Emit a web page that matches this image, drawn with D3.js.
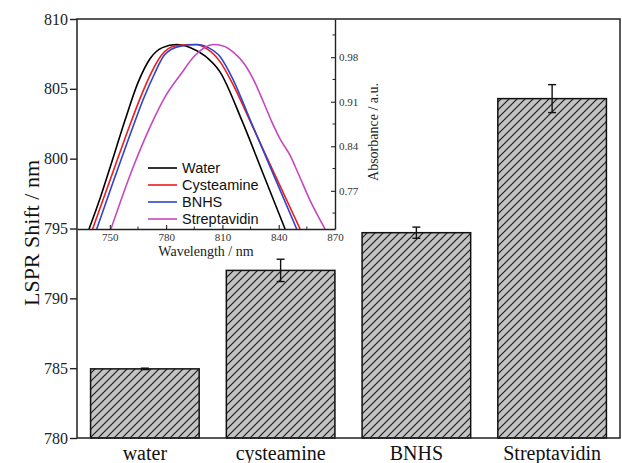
<!DOCTYPE html>
<html>
<head>
<meta charset="utf-8">
<script src="https://cdn.jsdelivr.net/npm/d3@7"></script>
<style>
  html, body { margin: 0; padding: 0; background: #fff; }
  svg { display: block; }
</style>
</head>
<body>
<svg id="chart" width="622" height="463"></svg>
<script>
// ---------- data ----------
const categories = ["water", "cysteamine", "BNHS", "Streptavidin"];
const shiftValues = [784.95, 792.0, 794.7, 804.3];
const shiftErrors = [0.05, 0.8, 0.4, 1.0];
const shiftTicks = [780, 785, 790, 795, 800, 805, 810];

const insetWlTicks = [750, 780, 810, 840, 870];
const insetWlMinor = [765, 795, 825, 855];
const insetAbsTicks = [0.77, 0.84, 0.91, 0.98];
const insetAbsMinor = [0.735, 0.805, 0.875, 0.945, 1.015];

const seriesNames = ["Water", "Cysteamine", "BNHS", "Streptavidin"];
const seriesColors = ["#000000", "#ee1c1c", "#2f45c8", "#c648c0"];

const waterSpec = [[738.9,0.710],[745,0.760],[751,0.815],[758,0.880],[765,0.940],[771.5,0.978],[778,0.995],[785.6,1.000],[793,0.995],[800.7,0.982],[808.7,0.957],[820.3,0.881],[831.8,0.796],[843.4,0.710]];
const cysteamineSpec = [[740.8,0.710],[750.5,0.790],[760,0.868],[766.5,0.918],[772,0.955],[777.5,0.983],[785,0.998],[795.4,1.000],[801.8,0.993],[808.7,0.973],[815.8,0.936],[825,0.878],[838,0.795],[851.4,0.710]];
const bnhsSpec = [[743.0,0.710],[752.5,0.790],[762,0.868],[768,0.915],[773.5,0.952],[779,0.983],[787,0.997],[796.5,1.000],[802.5,0.995],[808.7,0.981],[815.8,0.944],[825,0.880],[838,0.790],[849.6,0.710]];
const streptavidinSpec = [[750.6,0.710],[762.4,0.807],[771.4,0.870],[779.5,0.918],[787.5,0.952],[795.5,0.983],[805.0,1.000],[810,0.998],[815.8,0.988],[822.0,0.968],[826.5,0.945],[831.8,0.910],[836.4,0.878],[841,0.850],[846.0,0.826],[850,0.800],[856.7,0.755],[864.7,0.710]];
const spectra = [waterSpec, cysteamineSpec, bnhsSpec, streptavidinSpec];

// ---------- layout ----------
const svg = d3.select("#chart");
const L = 77, R = 620, T = 19, B = 438;
const serif = "'Liberation Serif', 'Times New Roman', serif";
const sans = "'Liberation Sans', Arial, sans-serif";

const x = d3.scaleBand().domain(categories).range([L, R]).paddingInner(0.2).paddingOuter(0.1);
const y = d3.scaleLinear().domain([780, 810]).range([B, T]);

// hatch pattern
const defs = svg.append("defs");
const pat = defs.append("pattern").attr("id", "hatch").attr("patternUnits", "userSpaceOnUse")
  .attr("width", 8).attr("height", 8);
pat.append("rect").attr("width", 8).attr("height", 8).attr("fill", "#c3c3c3");
pat.append("path").attr("d", "M-2,2 L2,-2 M0,8 L8,0 M6,10 L10,6")
  .attr("stroke", "#1a1a1a").attr("stroke-width", 1.15);

// bars
svg.append("g").selectAll("rect").data(categories).join("rect")
  .attr("x", d => x(d))
  .attr("y", (d, i) => y(shiftValues[i]))
  .attr("width", x.bandwidth())
  .attr("height", (d, i) => y(780) - y(shiftValues[i]))
  .attr("fill", "url(#hatch)")
  .attr("stroke", "#111").attr("stroke-width", 1.5);

// error bars
const eg = svg.append("g").attr("stroke", "#111").attr("stroke-width", 1.4);
categories.forEach((c, i) => {
  const cx = x(c) + x.bandwidth() / 2;
  const y1 = y(shiftValues[i] + shiftErrors[i]);
  const y2 = y(shiftValues[i] - shiftErrors[i]);
  eg.append("line").attr("x1", cx).attr("x2", cx).attr("y1", y1).attr("y2", y2);
  eg.append("line").attr("x1", cx - 4).attr("x2", cx + 4).attr("y1", y1).attr("y2", y1);
  eg.append("line").attr("x1", cx - 4).attr("x2", cx + 4).attr("y1", y2).attr("y2", y2);
});

// main y axis
const yAxis = svg.append("g").attr("transform", `translate(${L},0)`)
  .call(d3.axisLeft(y).tickValues(shiftTicks).tickSize(7).tickSizeOuter(0).tickPadding(2).tickFormat(d3.format("d")));
yAxis.select(".domain").remove();
yAxis.selectAll("line").attr("stroke", "#222").attr("stroke-width", 1.4);
yAxis.selectAll("text").attr("font-family", serif).attr("font-size", 16).attr("fill", "#222");

// category labels
svg.append("g").selectAll("text").data(categories).join("text")
  .attr("x", d => x(d) + x.bandwidth() / 2)
  .attr("y", 460)
  .attr("text-anchor", "middle")
  .attr("font-family", serif).attr("font-size", 20).attr("fill", "#111")
  .text(d => d);

// frame
svg.append("rect").attr("x", L).attr("y", T).attr("width", R - L).attr("height", B - T)
  .attr("fill", "none").attr("stroke", "#222").attr("stroke-width", 1.5);

// y title
svg.append("text").attr("transform", "translate(39,233) rotate(-90)")
  .attr("text-anchor", "middle").attr("font-family", serif).attr("font-size", 22).attr("fill", "#111")
  .text("LSPR Shift / nm");

// ---------- inset ----------
const IL = 77, IR = 335, IT = 19, IB = 229;
const ix = d3.scaleLinear().domain([732.5, 870]).range([IL, IR]);
const iy = d3.scaleLinear().domain([0.71, 1.04]).range([IB, IT]);

defs.append("clipPath").attr("id", "insetClip").append("rect")
  .attr("x", IL).attr("y", IT).attr("width", IR - IL).attr("height", IB - IT);

const line = d3.line().x(d => ix(d[0])).y(d => iy(d[1])).curve(d3.curveMonotoneX);
svg.append("g").attr("clip-path", "url(#insetClip)").selectAll("path").data(spectra).join("path")
  .attr("d", d => line(d))
  .attr("fill", "none")
  .attr("stroke", (d, i) => seriesColors[i])
  .attr("stroke-width", 1.6);

// inset x axis
const ixAxis = svg.append("g").attr("transform", `translate(0,${IB})`)
  .call(d3.axisBottom(ix).tickValues(insetWlTicks).tickSizeInner(-4).tickSizeOuter(0).tickPadding(4));
ixAxis.select(".domain").attr("stroke", "#222").attr("stroke-width", 1.4);
ixAxis.selectAll("line").attr("stroke", "#222").attr("stroke-width", 1.1);
ixAxis.selectAll("text").attr("font-family", serif).attr("font-size", 11).attr("fill", "#333");
svg.append("g").selectAll("line").data(insetWlMinor).join("line")
  .attr("x1", d => ix(d)).attr("x2", d => ix(d)).attr("y1", IB).attr("y2", IB - 2.5)
  .attr("stroke", "#222").attr("stroke-width", 1);

// inset y axis (right)
const iyAxis = svg.append("g").attr("transform", `translate(${IR},0)`)
  .call(d3.axisRight(iy).tickValues(insetAbsTicks).tickSizeInner(-4).tickSizeOuter(0).tickPadding(4).tickFormat(d3.format(".2f")));
iyAxis.select(".domain").attr("stroke", "#222").attr("stroke-width", 1.4);
iyAxis.selectAll("line").attr("stroke", "#222").attr("stroke-width", 1.1);
iyAxis.selectAll("text").attr("font-family", serif).attr("font-size", 11).attr("fill", "#333");
svg.append("g").selectAll("line").data(insetAbsMinor).join("line")
  .attr("x1", IR).attr("x2", IR - 2.5).attr("y1", d => iy(d)).attr("y2", d => iy(d))
  .attr("stroke", "#222").attr("stroke-width", 1);

// inset titles
svg.append("text").attr("x", (IL + IR) / 2).attr("y", 256)
  .attr("text-anchor", "middle").attr("font-family", serif).attr("font-size", 14).attr("fill", "#222")
  .text("Wavelength / nm");
svg.append("text").attr("transform", "translate(378,132) rotate(-90)")
  .attr("text-anchor", "middle").attr("font-family", serif).attr("font-size", 14).attr("fill", "#222")
  .text("Absorbance / a.u.");

// legend
const lg = svg.append("g");
seriesNames.forEach((n, i) => {
  const cy = 168 + i * 17;
  lg.append("line").attr("x1", 148).attr("x2", 177).attr("y1", cy).attr("y2", cy)
    .attr("stroke", seriesColors[i]).attr("stroke-width", 1.6);
  lg.append("text").attr("x", 182).attr("y", cy + 5)
    .attr("font-family", sans).attr("font-size", 14.5).attr("fill", "#111").text(n);
});
</script>
</body>
</html>
